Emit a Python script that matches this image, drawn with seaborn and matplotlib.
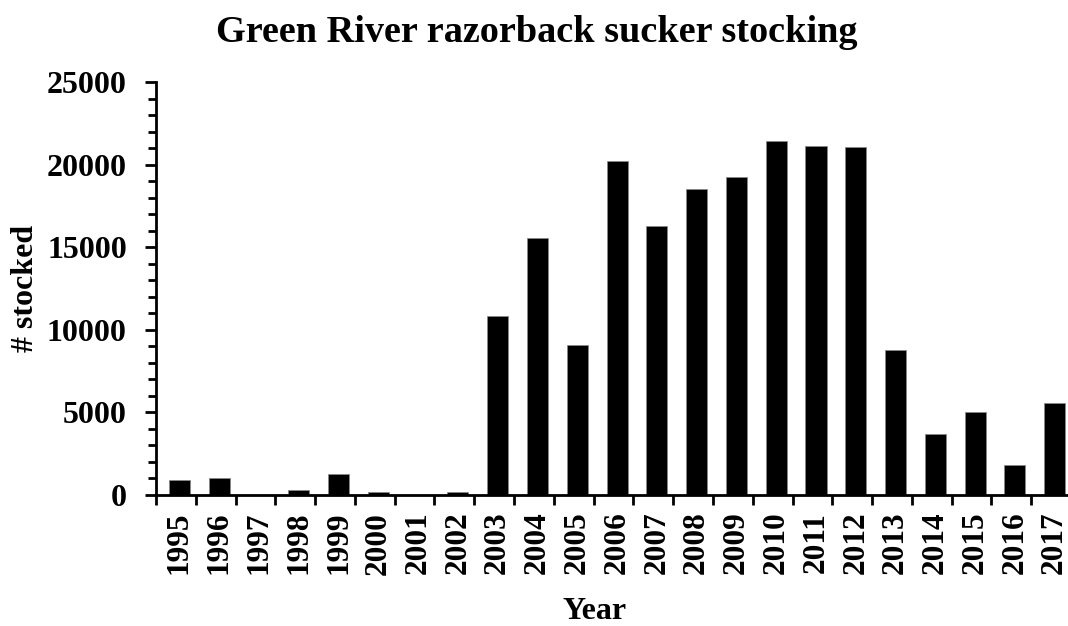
import matplotlib
matplotlib.use("Agg")
import matplotlib.pyplot as plt
import seaborn as sns
import pandas as pd
from matplotlib.ticker import MultipleLocator, FixedLocator

years = [str(y) for y in range(1995, 2018)]
stocked = [890, 1010, 0, 320, 1290, 160, 0, 190, 10850, 15550, 9070, 20210,
           16280, 18540, 19280, 21430, 21120, 21110, 8800, 3680, 5010, 1820, 5590]

title = "Green River razorback sucker stocking"
xlabel = "Year"
ylabel = "# stocked"

sns.set_theme(style="ticks")
plt.rcParams['font.family'] = ['Liberation Serif', 'DejaVu Serif']
plt.rcParams['font.weight'] = 'bold'
for k in ['text.color', 'axes.labelcolor', 'xtick.color', 'ytick.color', 'axes.edgecolor']:
    plt.rcParams[k] = 'black'

df = pd.DataFrame({"year": years, "stocked": stocked})

fig = plt.figure(figsize=(10.68, 6.26), dpi=100)
ax = fig.add_axes([156/1068, 1-495/626, (1071-156)/1068, (495-82.3)/626])

sns.barplot(data=df, x="year", y="stocked", color="black", width=0.53,
            edgecolor="#888888", linewidth=0.5, saturation=1, ax=ax)

off = 0.09
ax.set_xlim(-0.5 - off, len(years) - 0.5 - off)
ax.set_ylim(0, 25000)
ax.yaxis.set_major_locator(MultipleLocator(5000))
ax.yaxis.set_minor_locator(MultipleLocator(1000))
ax.set_xticks(range(len(years)))
ax.set_xticklabels(years, rotation=90, fontsize=22.5, fontweight='bold')
ax.xaxis.set_minor_locator(FixedLocator([k - 0.5 - off for k in range(len(years) + 1)]))
ax.tick_params(axis='x', which='major', length=0, pad=12)
ax.tick_params(axis='x', which='minor', length=7, width=2, direction='out')
ax.tick_params(axis='y', which='major', length=8, width=2, labelsize=23, pad=13)
ax.tick_params(axis='y', which='minor', length=5.5, width=2)
for lab in ax.get_yticklabels():
    lab.set_fontweight('bold')

for s in ["left", "bottom"]:
    ax.spines[s].set_linewidth(2)
sns.despine(ax=ax)

ax.set_xlabel(xlabel, fontsize=23, fontweight='bold')
ax.xaxis.set_label_coords((595-156)/915, (495-597)/412.7)
ax.xaxis.label.set_va('top')
ax.set_ylabel(ylabel, fontsize=23, fontweight='bold')
ax.yaxis.set_label_coords((40-156)/915, 0.5)
fig.text(537/1068, 1-33/626, title, ha='center', va='center', fontsize=27.5, fontweight='bold')

fig.savefig("out.png", dpi=100)
